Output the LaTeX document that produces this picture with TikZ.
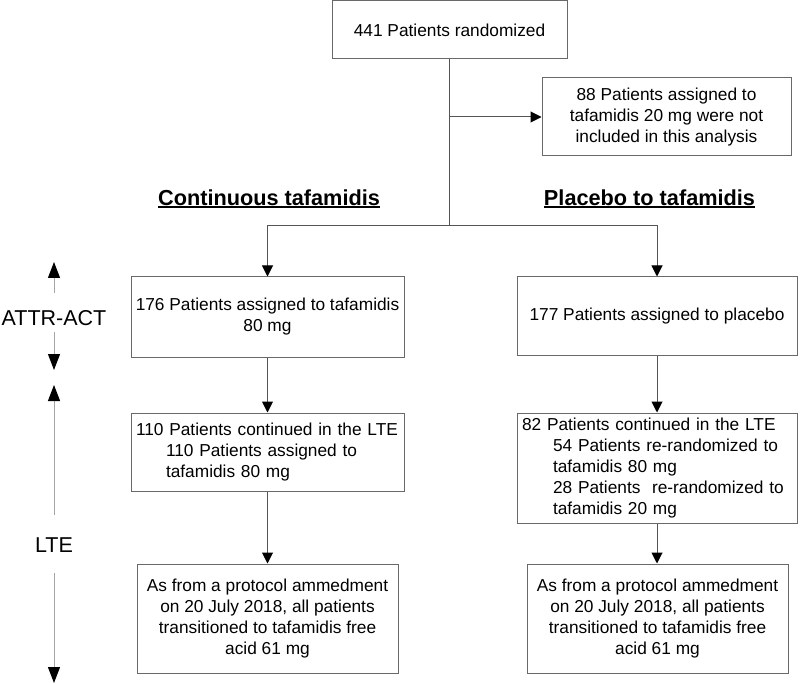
\documentclass[tikz,border=0pt]{standalone}
\usepackage{fontspec}
\setmainfont{Liberation Sans}
\usetikzlibrary{arrows.meta}
\definecolor{boxgray}{RGB}{105,105,105}
\definecolor{conngray}{RGB}{85,85,85}
\definecolor{axisgray}{RGB}{165,165,165}
\newcommand\myul[1]{\setbox0\hbox{#1}\rlap{\rule[-3pt]{\wd0}{2pt}}\box0}
\begin{document}
\begin{tikzpicture}[x=1pt,y=-1pt,
  box/.style={draw=boxgray, line width=1pt, rectangle, inner sep=0pt, align=center,
    font=\fontsize{17.3}{21}\selectfont},
  conn/.style={draw=conngray, line width=1pt},
  arr/.style={conn, -{Triangle[width=11pt,length=11pt,color=black,fill=black]}},
  axisarr/.style={draw=axisgray, line width=1pt, -{Triangle[width=12pt,length=16pt,color=black,fill=black]}},
  heading/.style={inner sep=0pt, font=\fontsize{21.7}{26}\selectfont\bfseries},
  axislab/.style={inner sep=0pt, font=\fontsize{21.5}{26}\selectfont}]
\useasboundingbox (0,0) rectangle (800,684);

% boxes
\node[box, minimum width=235pt, minimum height=58pt] (top) at (449.5,30) {441 Patients randomized};
\node[box, minimum width=249pt, minimum height=78pt] (side) at (666.5,117)
  {88 Patients assigned to\\tafamidis 20 mg were not\\included in this analysis};
\node[box, minimum width=273pt, minimum height=80pt] (lb1) at (267.5,317)
  {176 Patients assigned to tafamidis\\80 mg};
\node[box, minimum width=280pt, minimum height=78pt] (rb1) at (657,316)
  {177 Patients assigned to placebo};
\node[box, minimum width=273pt, minimum height=78pt, align=left, text width=263pt] (lb2) at (267.5,452)
  {110 Patients continued in the LTE\\\hspace*{30pt}110 Patients assigned to\\\hspace*{30pt}tafamidis 80 mg};
\node[box, minimum width=280pt, minimum height=110pt, align=left, text width=270pt] (rb2) at (657,468)
  {82 Patients continued in the LTE\\\hspace*{31pt}54 Patients re-randomized to\\\hspace*{31pt}tafamidis 80 mg\\\hspace*{31pt}28 Patients\ \ re-randomized to\\\hspace*{31pt}tafamidis 20 mg};
\node[box, minimum width=261pt, minimum height=109pt] (lb3) at (267.5,618.5)
  {As from a protocol ammedment\\on 20 July 2018, all patients\\transitioned to tafamidis free\\acid 61 mg};
\node[box, minimum width=261pt, minimum height=109pt] (rb3) at (657.5,618.5)
  {As from a protocol ammedment\\on 20 July 2018, all patients\\transitioned to tafamidis free\\acid 61 mg};

% headings
\node[heading] (h1) at (269,199) {\myul{Continuous tafamidis}};
\node[heading] (h2) at (649.5,199) {\myul{Placebo to tafamidis}};

% connectors
\coordinate (split) at (449.5,226);
\draw[conn] (top.south) -- (split);
\draw[arr] (top.south |- side.west) -- (side.west);
\draw[arr] (split) -| (lb1.north);
\draw[arr] (split) -| (rb1.north);
\draw[arr] (lb1.south) -- (lb2.north);
\draw[arr] (rb1.south) -- (rb2.north);
\draw[arr] (lb2.south) -- (lb3.north -| lb2.south);
\draw[arr] (rb2.south) -- (rb3.north -| rb2.south);

% phase axis
\node[axislab] (attr) at (54,318) {ATTR-ACT};
\node[axislab] (lte) at (54,545) {LTE};
\coordinate (attrtop) at (54,262);
\coordinate (attrbot) at (54,370);
\coordinate (ltetop) at (54,385);
\coordinate (ltebot) at (54,683);
\draw[axisarr] ([yshift=17pt]attr.north) -- (attrtop);
\draw[axisarr] ([yshift=-6pt]attr.south) -- (attrbot);
\draw[axisarr] ([yshift=22pt]lte.north) -- (ltetop);
\draw[axisarr] ([yshift=-20pt]lte.south) -- (ltebot);
\end{tikzpicture}
\end{document}
